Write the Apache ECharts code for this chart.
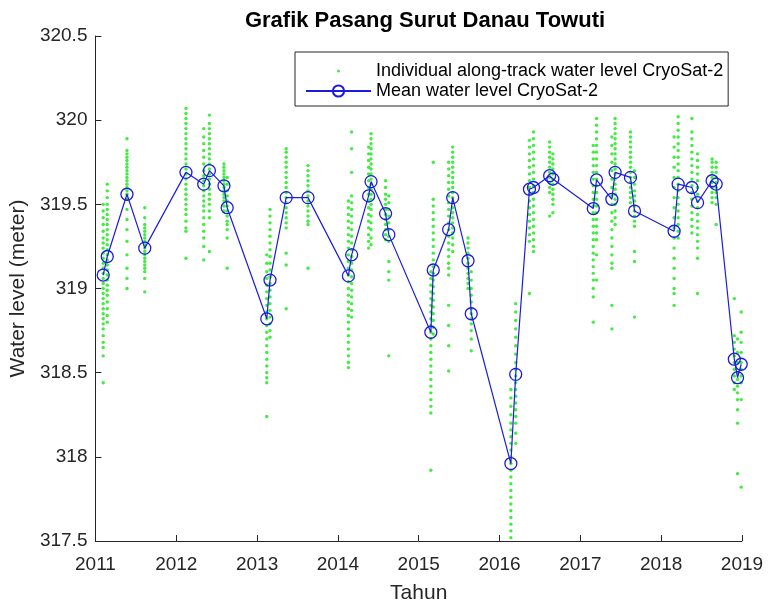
<!DOCTYPE html>
<html>
<head>
<meta charset="utf-8">
<script src="https://cdn.jsdelivr.net/npm/echarts@6/dist/echarts.min.js"></script>
<style>
  html, body { margin: 0; padding: 0; background: #ffffff; }
  #chart { width: 768px; height: 609px; }
</style>
</head>
<body>
<div id="chart"></div>
<script>
// Pass dates (decimal years) of each CryoSat-2 track over the lake
const meanDates = [
  2011.096, 2011.146, 2011.39, 2011.61, 2012.12, 2012.34, 2012.41, 2012.59, 2012.63,
  2013.12, 2013.16, 2013.36, 2013.63, 2014.13, 2014.17, 2014.38, 2014.41, 2014.59, 2014.63,
  2015.15, 2015.18, 2015.37, 2015.42, 2015.61, 2015.65, 2016.14, 2016.20, 2016.37, 2016.42,
  2016.62, 2016.66, 2017.16, 2017.20, 2017.39, 2017.43, 2017.62, 2017.67, 2018.16, 2018.21,
  2018.38, 2018.45, 2018.63, 2018.68, 2018.905, 2018.945, 2018.99
];

// Mean water level of each track (m)
const meanLevels = [
  319.08, 319.19, 319.56, 319.24, 319.69, 319.62, 319.70, 319.61, 319.48,
  318.82, 319.05, 319.54, 319.54, 319.075, 319.20, 319.55, 319.635, 319.445, 319.32,
  318.74, 319.11, 319.35, 319.54, 319.165, 318.85, 317.96, 318.49, 319.59, 319.60,
  319.67, 319.65, 319.475, 319.645, 319.53, 319.69, 319.66, 319.46, 319.34, 319.62,
  319.60, 319.51, 319.64, 319.62, 318.58, 318.47, 318.55
];

// Individual along-track levels, one list per pass (same order as meanDates)
const trackLevels = [
  [319.50,319.46,319.42,319.38,319.34,319.30,319.27,319.24,319.21,319.18,319.15,319.12,319.09,319.06,319.03,319.00,318.97,318.94,318.91,318.88,318.85,318.82,318.79,318.76,318.72,318.68,318.65,318.60,318.44],
  [319.62,319.58,319.54,319.50,319.47,319.44,319.41,319.38,319.35,319.32,319.29,319.26,319.23,319.20,319.17,319.14,319.11,319.08,319.05,319.02,318.99,318.96,318.92,318.88,318.84,318.80],
  [319.89,319.82,319.80,319.78,319.76,319.74,319.72,319.70,319.68,319.66,319.64,319.62,319.60,319.58,319.56,319.53,319.47,319.41,319.35,319.28,319.20,319.12,319.06,319.00],
  [319.48,319.42,319.38,319.36,319.34,319.32,319.30,319.28,319.26,319.24,319.22,319.20,319.18,319.16,319.14,319.12,319.10,319.06,318.98],
  [320.07,320.04,320.01,319.98,319.95,319.92,319.89,319.86,319.83,319.80,319.77,319.74,319.71,319.68,319.65,319.62,319.59,319.56,319.53,319.50,319.47,319.44,319.40,319.36,319.34,319.18],
  [319.95,319.90,319.86,319.82,319.78,319.74,319.70,319.67,319.64,319.61,319.58,319.55,319.52,319.49,319.46,319.42,319.38,319.34,319.30,319.25,319.17],
  [320.03,319.98,319.95,319.92,319.89,319.86,319.83,319.80,319.77,319.74,319.71,319.68,319.65,319.62,319.59,319.56,319.53,319.50,319.46,319.42,319.22],
  [319.74,319.72,319.70,319.68,319.66,319.64,319.62,319.60,319.58,319.56,319.54,319.52,319.49,319.46],
  [319.66,319.62,319.58,319.55,319.52,319.49,319.46,319.43,319.40,319.38,319.35,319.30,319.12],
  [319.20,319.15,319.10,319.06,319.02,318.98,318.94,318.90,318.86,318.82,318.78,318.74,318.70,318.66,318.62,318.58,318.54,318.50,318.47,318.44,318.24],
  [319.47,319.43,319.39,319.35,319.31,319.27,319.23,319.19,319.15,319.11,319.07,319.03,318.99,318.95,318.91,318.87,318.83,318.79,318.75,318.71],
  [319.83,319.81,319.78,319.75,319.72,319.69,319.66,319.63,319.60,319.57,319.54,319.51,319.48,319.45,319.42,319.39,319.36,319.21,319.14,318.88],
  [319.73,319.70,319.67,319.64,319.61,319.58,319.55,319.52,319.49,319.46,319.43,319.40,319.38,319.12],
  [319.52,319.48,319.44,319.40,319.36,319.32,319.28,319.24,319.20,319.16,319.12,319.08,319.04,319.00,318.96,318.92,318.88,318.84,318.80,318.76,318.72,318.68,318.64,318.60,318.56,318.53],
  [319.93,319.83,319.69,319.55,319.51,319.47,319.43,319.39,319.35,319.31,319.27,319.23,319.19,319.15,319.11,319.07,319.03,318.99,318.95,318.91,318.87,318.83],
  [319.84,319.80,319.76,319.72,319.68,319.64,319.60,319.56,319.52,319.48,319.44,319.40,319.36,319.32,319.28,319.24],
  [319.92,319.89,319.86,319.83,319.80,319.77,319.74,319.71,319.68,319.65,319.62,319.59,319.56,319.53,319.50,319.47,319.43,319.39,319.35,319.30,319.26],
  [319.64,319.60,319.56,319.53,319.50,319.47,319.44,319.41,319.38,319.35,319.32,319.29],
  [319.55,319.51,319.47,319.43,319.39,319.35,319.31,319.28,319.16,319.10,319.05,318.60],
  [319.10,319.06,319.02,318.98,318.94,318.90,318.86,318.82,318.78,318.74,318.70,318.66,318.62,318.58,318.54,318.50,318.46,318.42,318.38,318.34,318.30,318.26,317.92],
  [319.75,319.53,319.49,319.45,319.41,319.37,319.33,319.29,319.25,319.21,319.17,319.13,319.09,319.05,319.01,318.97,318.93,318.89,318.85,318.81,318.77,318.73],
  [319.75,319.71,319.67,319.63,319.59,319.55,319.51,319.47,319.43,319.39,319.35,319.31,319.27,319.23,319.19,319.15,319.12,319.08,318.90,318.78,318.66,318.51],
  [319.84,319.81,319.78,319.75,319.72,319.69,319.66,319.63,319.60,319.57,319.54,319.51,319.48,319.45,319.42,319.39,319.36,319.33,319.30,319.26,319.22],
  [319.30,319.27,319.24,319.21,319.18,319.15,319.12,319.09,319.06,319.03,319.00],
  [319.10,319.05,319.00,318.96,318.92,318.88,318.85,318.82,318.79,318.75,318.70,318.63],
  [318.40,318.35,318.30,318.25,318.20,318.16,318.12,318.08,318.04,318.00,317.96,317.92,317.88,317.84,317.80,317.76,317.72,317.68,317.64,317.60,317.56,317.52],
  [318.91,318.86,318.81,318.76,318.71,318.66,318.61,318.56,318.52,318.48,318.44,318.40,318.36,318.32,318.28,318.24,318.20,318.14,318.08],
  [319.88,319.84,319.80,319.76,319.72,319.68,319.64,319.60,319.56,319.52,319.48,319.44,319.40,319.36,319.32,319.28,318.97],
  [319.93,319.89,319.85,319.81,319.77,319.73,319.69,319.65,319.61,319.57,319.53,319.49,319.45,319.41,319.37,319.33,319.29,319.25,319.22],
  [319.87,319.84,319.81,319.78,319.75,319.72,319.69,319.66,319.63,319.60,319.57,319.43],
  [319.80,319.77,319.74,319.71,319.68,319.65,319.62,319.59,319.56,319.53,319.50,319.45],
  [319.85,319.81,319.77,319.73,319.69,319.65,319.61,319.57,319.53,319.49,319.45,319.41,319.37,319.33,319.29,319.25,319.21,319.17,319.13,319.09,319.05,319.00,318.95,318.80],
  [320.01,319.97,319.93,319.89,319.85,319.81,319.77,319.73,319.69,319.65,319.61,319.57,319.53,319.49,319.45,319.41,319.37,319.33,319.29,319.20,319.05],
  [319.90,319.85,319.80,319.75,319.70,319.65,319.60,319.55,319.50,319.45,319.40,319.35,319.30,319.25,319.20,319.15,319.12,318.90,318.76],
  [320.01,319.98,319.95,319.92,319.89,319.86,319.83,319.80,319.77,319.74,319.71,319.68,319.65,319.62,319.59,319.56,319.53,319.50,319.46,319.42,319.38],
  [319.93,319.90,319.87,319.84,319.81,319.78,319.75,319.72,319.69,319.66,319.63,319.60,319.57,319.54,319.51],
  [319.70,319.66,319.62,319.58,319.55,319.52,319.49,319.46,319.43,319.40,319.37,319.22,319.16,318.83],
  [319.90,319.84,319.78,319.72,319.66,319.60,319.54,319.48,319.42,319.36,319.30,319.24,319.18,319.12,319.06,319.00,318.97,318.90],
  [320.02,319.98,319.94,319.90,319.86,319.82,319.78,319.74,319.70,319.66,319.62,319.58,319.54,319.50,319.46,319.42,319.38,319.34,319.30],
  [320.01,319.93,319.89,319.85,319.81,319.77,319.73,319.69,319.65,319.61,319.57,319.53,319.49,319.45,319.41,319.37,319.33],
  [319.80,319.76,319.72,319.68,319.64,319.60,319.56,319.52,319.48,319.44,319.40,319.36,319.32,319.28,319.24,319.18,318.97],
  [319.77,319.75,319.72,319.69,319.66,319.63,319.60,319.57,319.54,319.51],
  [319.75,319.72,319.69,319.66,319.63,319.60,319.57,319.54,319.50,319.38],
  [318.94,318.72,318.68,318.64,318.60,318.56,318.52,318.48,318.44,318.40],
  [318.70,318.62,318.56,318.50,318.46,318.42,318.38,318.34,318.28,318.20,317.90],
  [318.86,318.74,318.68,318.62,318.56,318.52,318.48,318.44,318.34,317.82]
];

const yearTicks = [2011, 2012, 2013, 2014, 2015, 2016, 2017, 2018, 2019];
const levelTicks = [317.5, 318, 318.5, 319, 319.5, 320, 320.5];

const NAME_POINTS = 'Individual along-track water level CryoSat-2';
const NAME_MEAN = 'Mean water level CryoSat-2';
const FONT = '"Liberation Sans", Arial, Helvetica, sans-serif';
const AXIS_COLOR = '#262626';

const pointData = [];
trackLevels.forEach((levels, i) => {
  levels.forEach(v => pointData.push([meanDates[i], v]));
});
const meanData = meanDates.map((d, i) => [d, meanLevels[i]]);

const chart = echarts.init(document.getElementById('chart'), null, { renderer: 'canvas' });

const axisCommon = {
  type: 'value',
  nameLocation: 'middle',
  nameTextStyle: { fontFamily: FONT, fontSize: 21, color: AXIS_COLOR },
  axisLine: { show: true, lineStyle: { color: AXIS_COLOR, width: 1 } },
  axisTick: { show: true, inside: true, length: 6, lineStyle: { color: AXIS_COLOR, width: 1 } },
  splitLine: { show: false },
  axisLabel: { fontFamily: FONT, fontSize: 19, color: AXIS_COLOR }
};

chart.setOption({
  animation: false,
  backgroundColor: '#ffffff',
  title: {
    text: 'Grafik Pasang Surut Danau Towuti',
    left: 420,
    top: 5,
    textAlign: 'center',
    textStyle: { fontFamily: FONT, fontSize: 22, fontWeight: 'bold', color: '#000000' }
  },
  legend: {
    orient: 'vertical',
    left: 295,
    top: 52,
    padding: [9, 5, 5, 10],
    itemWidth: 65,
    itemHeight: 14,
    itemGap: 0,
    backgroundColor: '#ffffff',
    borderColor: AXIS_COLOR,
    borderWidth: 1,
    borderRadius: 0,
    selectedMode: false,
    textStyle: { fontFamily: FONT, fontSize: 18, lineHeight: 20, color: '#000000' },
    data: [
      { name: NAME_POINTS, icon: 'path://M0,0M65,0M65,14M0,14M31,7a1.5,1.5 0 1,0 3,0a1.5,1.5 0 1,0 -3,0z' },
      { name: NAME_MEAN }
    ]
  },
  grid: { left: 95, right: 26, top: 36, bottom: 63, containLabel: false },
  xAxis: Object.assign({}, axisCommon, {
    min: yearTicks[0],
    max: yearTicks[yearTicks.length - 1],
    interval: 1,
    name: 'Tahun',
    nameGap: 42,
    axisLabel: Object.assign({}, axisCommon.axisLabel, {
      margin: 14,
      formatter: v => String(yearTicks.find(t => Math.abs(t - v) < 1e-6) ?? v)
    })
  }),
  yAxis: Object.assign({}, axisCommon, {
    min: levelTicks[0],
    max: levelTicks[levelTicks.length - 1],
    interval: 0.5,
    name: 'Water level (meter)',
    nameGap: 56,
    axisLabel: Object.assign({}, axisCommon.axisLabel, {
      margin: 8,
      formatter: v => String(levelTicks.find(t => Math.abs(t - v) < 1e-6) ?? v)
    })
  }),
  series: [
    {
      name: NAME_POINTS,
      type: 'scatter',
      data: pointData,
      symbol: 'circle',
      symbolSize: 3.4,
      itemStyle: { color: '#14e614' },
      silent: true,
      z: 2
    },
    {
      name: NAME_MEAN,
      type: 'line',
      data: meanData,
      symbol: 'circle',
      symbolSize: 12,
      showAllSymbol: true,
      lineStyle: { color: '#1c1ce0', width: 1.2 },
      itemStyle: { color: 'rgba(0,0,0,0)', borderColor: '#1c1ce0', borderWidth: 1.3 },
      emphasis: { disabled: true },
      z: 3
    }
  ]
});
</script>
</body>
</html>
